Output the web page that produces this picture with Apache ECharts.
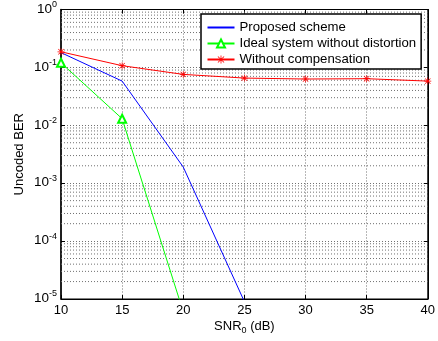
<!DOCTYPE html>
<html>
<head>
<meta charset="utf-8">
<script src="https://cdn.jsdelivr.net/npm/echarts@6/dist/echarts.min.js"></script>
<style>
html,body{margin:0;padding:0;background:#fff;}
#chart{width:438px;height:341px;}
</style>
</head>
<body>
<div id="chart"></div>
<script>
// ---- data ----
const snrProposed = [10, 15, 20, 25];
const berProposed = [0.18, 0.058, 0.0019, 9e-6];
const snrIdeal = [10, 15, 20];
const berIdeal = [0.12, 0.013, 6e-6];
const snrNoComp = [10, 15, 20, 25, 30, 35, 40];
const berNoComp = [0.186, 0.107, 0.0757, 0.0654, 0.063, 0.0638, 0.058];
const seriesNames = ['Proposed scheme', 'Ideal system without distortion', 'Without compensation'];
const xTicks = [10, 15, 20, 25, 30, 35, 40];
const yDecades = [1e-5, 1e-4, 1e-3, 1e-2, 1e-1, 1];

// minor log gridlines (2..9 x 10^k), drawn as broken line segments across the plot
const minorGridData = [];
for (let k = -5; k < 0; k++) {
  for (let m = 2; m <= 9; m++) {
    const v = m * Math.pow(10, k);
    minorGridData.push([xTicks[0], v], [xTicks[xTicks.length - 1], v], ['-', '-']);
  }
}

const FONT = 'Liberation Sans, Arial, Helvetica, sans-serif';
const gridLine = { type: [1, 2], color: '#707070', width: 1 };
const starPath = 'path://M0 4.5H10V5.5H0Z M4.5 0H5.5V10H4.5Z M1.5 0.8L9.2 8.5L8.5 9.2L0.8 1.5Z M8.5 0.8L9.2 1.5L1.5 9.2L0.8 8.5Z';

function pair(xs, ys) { return xs.map((x, i) => [x, ys[i]]); }

const chart = echarts.init(document.getElementById('chart'), null, { renderer: 'canvas' });
chart.setOption({
  animation: false,
  textStyle: { fontFamily: FONT, color: '#000' },
  grid: { left: 61, right: 9, top: 9, bottom: 42, show: true, borderColor: '#000', borderWidth: 1, backgroundColor: 'transparent' },
  legend: {
    orient: 'vertical',
    left: 201, top: 14,
    backgroundColor: '#fff',
    borderColor: '#000', borderWidth: 1.5,
    padding: [7, 5, 3, 5.5],
    itemWidth: 27, itemHeight: 10, itemGap: 3,
    textStyle: { fontFamily: FONT, fontSize: 13.2, color: '#000', lineHeight: 13 },
    data: [
      { name: seriesNames[0], itemStyle: { opacity: 0 } },
      { name: seriesNames[1] },
      { name: seriesNames[2] }
    ]
  },
  xAxis: [{
    type: 'value', min: xTicks[0], max: xTicks[xTicks.length - 1], interval: 5,
    name: 'SNR{sub|0} (dB)', nameLocation: 'middle', nameGap: 19, nameMoveOverlap: false,
    nameTextStyle: { fontFamily: FONT, fontSize: 13, color: '#000',
      rich: { sub: { fontSize: 9, verticalAlign: 'bottom', padding: [8, 0, 0, 0], fontFamily: FONT, color: '#000' } } },
    axisLine: { show: true, lineStyle: { color: '#000', width: 1.2 } },
    axisTick: { show: true, inside: true, length: 4, lineStyle: { color: '#000' } },
    axisLabel: { fontFamily: FONT, fontSize: 13, color: '#000', margin: 5 },
    splitLine: { show: true, lineStyle: gridLine }
  }, {
    type: 'value', position: 'top', min: xTicks[0], max: xTicks[xTicks.length - 1], interval: 5,
    axisLine: { show: true, lineStyle: { color: '#000' } },
    axisTick: { show: true, inside: true, length: 4, lineStyle: { color: '#000' } },
    axisLabel: { show: false }, splitLine: { show: false }
  }],
  yAxis: [{
    type: 'log', logBase: 10, min: yDecades[0], max: yDecades[yDecades.length - 1], splitNumber: 5,
    name: 'Uncoded BER', nameLocation: 'middle', nameGap: 35, nameMoveOverlap: false,
    nameTextStyle: { fontFamily: FONT, fontSize: 13, color: '#000' },
    axisLine: { show: true, lineStyle: { color: '#000', width: 1.5 } },
    axisTick: { show: true, inside: true, length: 4, lineStyle: { color: '#000' } },
    axisLabel: {
      margin: 4,
      formatter: function (v) { return '{b|10}{s|' + Math.round(Math.log10(v)) + '}'; },
      rich: {
        b: { fontFamily: FONT, fontSize: 13.5, color: '#000', verticalAlign: 'bottom', padding: [0, 0, 3, 0] },
        s: { fontFamily: FONT, fontSize: 9, color: '#000', verticalAlign: 'top', padding: [0, 0, 10, 0] }
      }
    },
    splitLine: { show: true, lineStyle: gridLine }
  }, {
    type: 'log', logBase: 10, position: 'right', min: yDecades[0], max: yDecades[yDecades.length - 1], splitNumber: 5,
    axisLine: { show: true, lineStyle: { color: '#000' } },
    axisTick: { show: true, inside: true, length: 4, lineStyle: { color: '#000' } },
    axisLabel: { show: false }, splitLine: { show: false }
  }],
  series: [{
    name: '_minorGrid', type: 'line', data: minorGridData, symbol: 'none', silent: true,
    connectNulls: false, lineStyle: gridLine, z: 1, clip: true
  }, {
    name: seriesNames[0], type: 'line', data: pair(snrProposed, berProposed),
    symbol: 'none', lineStyle: { color: '#0000ff', width: 1 }, itemStyle: { color: '#0000ff' },
    clip: true, z: 3
  }, {
    name: seriesNames[1], type: 'line', data: pair(snrIdeal, berIdeal),
    symbol: 'emptyTriangle', symbolSize: 8,
    lineStyle: { color: '#00ff00', width: 1 }, itemStyle: { color: '#00ff00', borderColor: '#00ff00', borderWidth: 1 },
    clip: true, z: 3
  }, {
    name: seriesNames[2], type: 'line', data: pair(snrNoComp, berNoComp),
    symbol: starPath, symbolSize: 7,
    lineStyle: { color: '#ff0000', width: 1 }, itemStyle: { color: '#ff0000' },
    clip: true, z: 3
  }]
});
</script>
</body>
</html>
